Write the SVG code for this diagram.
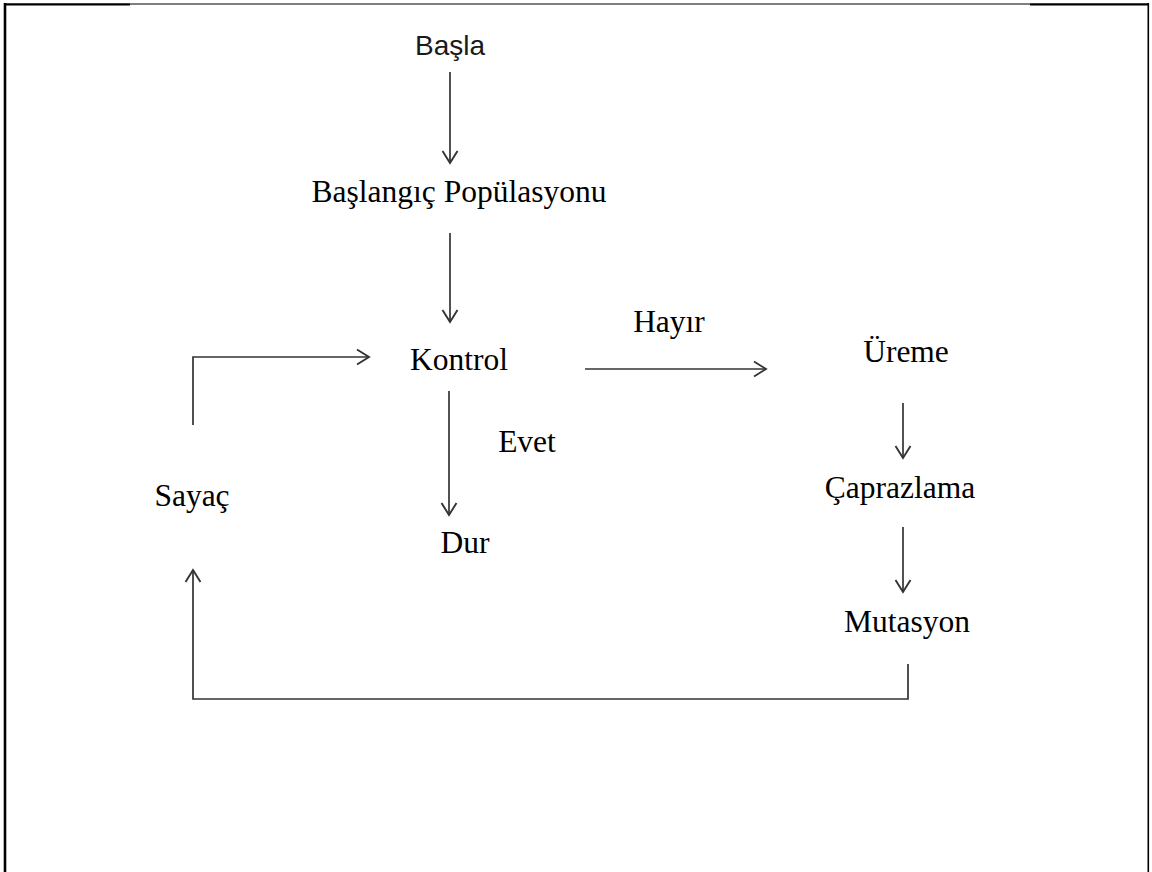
<svg xmlns="http://www.w3.org/2000/svg" width="1152" height="872" viewBox="0 0 1152 872">
  <style>
    .serif { font-family: "Liberation Serif", "Times New Roman", serif; font-size: 31.5px; fill: #000; text-anchor: middle; }
    .sans { font-family: "Liberation Sans", Arial, sans-serif; font-size: 28px; fill: #1a1a1a; text-anchor: middle; }
    .edge { fill: none; stroke: #333; stroke-width: 1.7; }
    .frame { fill: none; stroke: #000; }
  </style>
  <defs>
    <marker id="open" markerUnits="userSpaceOnUse" markerWidth="20" markerHeight="20" refX="0" refY="0" viewBox="-14 -10 16 20" orient="auto" overflow="visible">
      <path d="M-12,-7.5 L0,0 L-12,7.5" fill="none" stroke="#333" stroke-width="1.9"/>
    </marker>
  </defs>
  <rect width="1152" height="872" fill="#fff"/>

  <!-- page frame -->
  <g id="frame">
    <line class="frame" x1="5" y1="3" x2="5" y2="872" stroke-width="2.6"/>
    <line class="frame" x1="4" y1="4.3" x2="130" y2="4.3" stroke-width="2.2"/>
    <line class="frame" x1="130" y1="4" x2="1030" y2="4" stroke-width="1.2"/>
    <line class="frame" x1="1030" y1="4.3" x2="1149" y2="4.3" stroke-width="2.2"/>
    <line class="frame" x1="1148.3" y1="3" x2="1148.3" y2="872" stroke-width="1.6"/>
  </g>

  <!-- connectors -->
  <g id="connectors">
    <path class="edge" d="M450,72 V163" marker-end="url(#open)"/>
    <path class="edge" d="M450,233 V322" marker-end="url(#open)"/>
    <path class="edge" d="M193,425 V357 H369" marker-end="url(#open)"/>
    <path class="edge" d="M449,391 V515" marker-end="url(#open)"/>
    <path class="edge" d="M585,369 H766" marker-end="url(#open)"/>
    <path class="edge" d="M903,403 V458" marker-end="url(#open)"/>
    <path class="edge" d="M903,527 V592" marker-end="url(#open)"/>
    <path class="edge" d="M908,664 V699 H193 V570" marker-end="url(#open)"/>
  </g>

  <!-- nodes -->
  <g id="basla"><text class="sans" x="450" y="55">Başla</text></g>
  <g id="baslangic-populasyonu"><text class="serif" x="459" y="202">Başlangıç Popülasyonu</text></g>
  <g id="kontrol"><text class="serif" x="459" y="370">Kontrol</text></g>
  <g id="hayir"><text class="serif" x="669" y="332">Hayır</text></g>
  <g id="ureme"><text class="serif" x="906" y="362">Üreme</text></g>
  <g id="evet"><text class="serif" x="527" y="452">Evet</text></g>
  <g id="sayac"><text class="serif" x="192" y="506">Sayaç</text></g>
  <g id="dur"><text class="serif" x="465" y="553">Dur</text></g>
  <g id="caprazlama"><text class="serif" x="900" y="498">Çaprazlama</text></g>
  <g id="mutasyon"><text class="serif" x="907" y="632">Mutasyon</text></g>
</svg>
